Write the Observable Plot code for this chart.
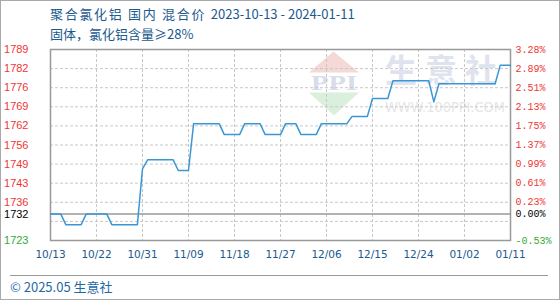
<!DOCTYPE html>
<html><head><meta charset="utf-8">
<script src="https://cdn.jsdelivr.net/npm/d3@7"></script>
<script src="https://cdn.jsdelivr.net/npm/@observablehq/plot@0.6"></script>
<style>
body{margin:0;background:#fff;}
#wrap{position:relative;width:560px;height:300px;overflow:hidden;font-family:"Noto Sans CJK SC","Noto Sans",sans-serif;background:#fff;}
#border{position:absolute;left:0;top:0;width:558px;height:298px;border:1px solid #aaa;pointer-events:none;z-index:5;}
#head{position:relative;height:44px;padding-left:50px;box-sizing:border-box;padding-top:4px;color:#1a5a8e;font-size:13px;line-height:20px;z-index:2;white-space:pre;}
#head .cj{letter-spacing:1.7px;}
#wm{position:absolute;left:0;top:0;z-index:0;}
#chart{position:relative;z-index:1;height:231px;}
#footer{position:relative;margin:0 12px 0 10px;border-top:1px solid #999;color:#1f6aa5;font-size:13px;line-height:21px;z-index:2;}
</style></head>
<body>
<div id="wrap">
  <svg id="wm" width="560" height="300">
    <polygon points="333.5,51.5 309,72.5 359,72.5" fill="#f5d9d6"/>
    <text x="334" y="90" text-anchor="middle" font-family="Liberation Serif" font-weight="bold" font-size="21" fill="#d8dde9" textLength="46" lengthAdjust="spacingAndGlyphs">PPI</text>
    <polygon points="309,92.5 359,92.5 334,115.5" fill="#dbefdd"/>
    <text x="385" y="82" font-family="Noto Sans CJK SC" font-weight="bold" font-size="32" letter-spacing="8" fill="#dfe3ee">生意社</text>
    <text x="385" y="111.5" font-family="DejaVu Sans" font-size="14" fill="#e6e6e6" textLength="120" lengthAdjust="spacingAndGlyphs">WWW.100PPI.COM</text>
  </svg>
  <div id="head"><div id="title"><span class="cj">聚合氯化铝 国内 混合价 </span><span>2023-10-13 - 2024-01-11</span></div><div id="subtitle">固体，氯化铝含量≥28%</div></div>
  <div id="chart"></div>
  <div id="footer">© 2025.05 生意社</div>
  <div id="border"></div>
</div>
<script>
// observed price points (change points of the daily series)
const dates = ["2023-10-13","2023-10-15","2023-10-16","2023-10-19","2023-10-20","2023-10-24","2023-10-25","2023-10-30",
  "2023-10-31","2023-11-01","2023-11-06","2023-11-07","2023-11-09","2023-11-10","2023-11-15","2023-11-16","2023-11-19",
  "2023-11-20","2023-11-23","2023-11-24","2023-11-27","2023-11-28","2023-11-30","2023-12-01","2023-12-04","2023-12-05",
  "2023-12-10","2023-12-11","2023-12-14","2023-12-15","2023-12-18","2023-12-19","2023-12-26","2023-12-27","2023-12-28",
  "2024-01-08","2024-01-09","2024-01-11"];
const prices = [1732,1732,1728.3,1728.3,1732,1732,1728.3,1728.3,
  1747.6,1750.7,1750.7,1747.0,1747.0,1763.2,1763.2,1759.4,1759.4,
  1763.2,1763.2,1759.4,1759.4,1763.2,1763.2,1759.4,1759.4,1763.2,
  1763.2,1765.7,1765.7,1771.9,1771.9,1778.0,1778.0,1770.7,1777.0,
  1777.0,1783.4,1783.4];
const basePrice = 1732;
// y gridlines
const gridPrices = [1722.82,1729.42,1736.02,1742.62,1749.22,1755.82,1762.41,1769.01,1775.61,1782.21,1788.81];
const leftLabels = ["1723","","1736","1743","1749","1756","1762","1769","1776","1782","1789"];
const rightLabels = ["-0.53%","","0.23%","0.61%","0.99%","1.37%","1.75%","2.13%","2.51%","2.89%","3.28%"];
const baseLeftLabel = "1732";
const baseRightLabel = "0.00%";
const xTickLabels = ["2023-10-13","2023-10-22","2023-10-31","2023-11-09","2023-11-18","2023-11-27","2023-12-06","2023-12-15","2023-12-24","2024-01-02","2024-01-11"];

const data = dates.map((d,i)=>({date:new Date(d), price:prices[i]}));
const xTicks = xTickLabels.map(d=>new Date(d));
const leftMap = new Map(gridPrices.map((v,i)=>[v,leftLabels[i]]));
const rightMap = new Map(gridPrices.map((v,i)=>[v,rightLabels[i]]));
leftMap.set(basePrice, baseLeftLabel); rightMap.set(basePrice, baseRightLabel);
const redTicks = gridPrices.slice(2), greenTicks = [gridPrices[0]];
const RED = "#f03535", GREEN = "#33aa33", AX = "#1a5a8e";
const lf = {anchor:"left", tickSize:0, tickPadding:22, fontSize:11, fontFamily:"Liberation Sans", label:null, tickFormat:v=>leftMap.get(v)};
const rf = {anchor:"right", tickSize:0, tickPadding:5, fontSize:10, fontFamily:"Liberation Mono", label:null, tickFormat:v=>rightMap.get(v)};

const chart = Plot.plot({
  width:560, height:231,
  marginLeft:50, marginRight:50, marginTop:5, marginBottom:35,
  style:{background:"transparent", overflow:"visible"},
  x:{type:"utc", domain:[new Date(dates[0]), new Date(dates[dates.length-1])]},
  y:{domain:[gridPrices[0], gridPrices[gridPrices.length-1]]},
  marks:[
    Plot.gridY(gridPrices, {stroke:"#c8c8c8", strokeOpacity:1, strokeDasharray:"3,2"}),
    Plot.gridX(xTicks, {stroke:"#c8c8c8", strokeOpacity:1, strokeDasharray:"3,2"}),
    Plot.ruleY([basePrice], {stroke:"#999", strokeWidth:1.5}),
    Plot.frame({stroke:"#999", strokeWidth:1.5}),
    Plot.line(data, {x:"date", y:"price", stroke:"#3a97d6", strokeWidth:1.5}),
    Plot.axisY(redTicks, {...lf, fill:RED}),
    Plot.axisY(greenTicks, {...lf, fill:GREEN}),
    Plot.axisY([basePrice], {...lf, fill:"#000", dy:0.5}),
    Plot.axisY(redTicks, {...rf, fill:RED}),
    Plot.axisY(greenTicks, {...rf, fill:GREEN}),
    Plot.axisY([basePrice], {...rf, fill:"#000"}),
    Plot.axisX(xTicks, {anchor:"bottom", tickSize:0, tickPadding:10, fontSize:10.5, fontFamily:"DejaVu Sans", fill:AX, label:null, tickFormat:d3.utcFormat("%m/%d")})
  ]
});
document.getElementById("chart").appendChild(chart);
</script>
</body></html>
